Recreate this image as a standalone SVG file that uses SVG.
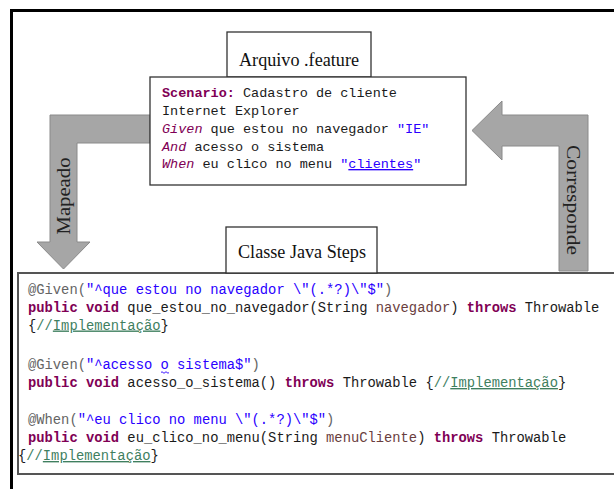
<svg xmlns="http://www.w3.org/2000/svg" width="614" height="489" viewBox="0 0 614 489">
<style>
.box{fill:#fff;stroke:#333;stroke-width:1.3}
.arrow{fill:#a6a6a6;stroke:#8a8a8a;stroke-width:1}
.title{font-family:"Liberation Serif","Times New Roman",serif;font-size:18px;fill:#111}
.side{font-family:"Liberation Serif","Times New Roman",serif;font-size:19px;fill:#222}
.mono{font-family:"Liberation Mono","DejaVu Sans Mono",monospace;fill:#1a1a1a}
.sc{font-size:13.5px}
.code{font-size:13.8px}
.kw{fill:#7f0055;font-weight:bold}
.it{fill:#7f0055;font-style:italic}
.str{fill:#2a00ff}
.ann{fill:#646464}
.par{fill:#6a3e3e}
.cm{fill:#3f7f5f}
.ul{text-decoration:underline}
</style>
<rect width="614" height="489" fill="#fff"/>
<path d="M11.5,489 V10.5 H614" fill="none" stroke="#000" stroke-width="3"/>
<g id="connectors">
<g id="arrow-mapeado">
<polygon class="arrow" points="150,115 50,115 50,242 37,242 63.5,269 90,242 77,242 77,143 150,143"/>
<text class="side" transform="translate(63.5,196) rotate(-90)" y="6.5" text-anchor="middle" textLength="77" lengthAdjust="spacingAndGlyphs">Mapeado</text>
</g>
<g id="arrow-corresponde">
<polygon class="arrow" points="588,271 588,115 502,115 502,101 472,130.5 502,160 502,146 559,146 559,271"/>
<text class="side" transform="translate(573.5,200) rotate(90)" y="6.5" text-anchor="middle" textLength="110" lengthAdjust="spacingAndGlyphs">Corresponde</text>
</g>
</g>
<g id="node-arquivo">
<rect class="box" x="227" y="32" width="144" height="45"/>
<text class="title" x="299" y="66" text-anchor="middle" textLength="120" lengthAdjust="spacingAndGlyphs">Arquivo .feature</text>
</g>
<g id="node-scenario">
<rect class="box" x="150" y="77" width="316" height="108"/>
<text class="mono sc" x="162" y="97"><tspan class="kw">Scenario:</tspan> Cadastro de cliente</text>
<text class="mono sc" x="162" y="115">Internet Explorer</text>
<text class="mono sc" x="162" y="133"><tspan class="it">Given</tspan> que estou no navegador <tspan class="str">"IE"</tspan></text>
<text class="mono sc" x="162" y="151"><tspan class="it">And</tspan> acesso o sistema</text>
<text class="mono sc" x="162" y="168"><tspan class="it">When</tspan> eu clico no menu <tspan class="str">"<tspan class="ul">clientes</tspan>"</tspan></text>
</g>
<g id="node-code">
<rect x="18" y="273" width="620" height="201" fill="#fff" stroke="#555" stroke-width="2"/>
<text class="mono code" x="28" y="293.5"><tspan class="ann">@Given(</tspan><tspan class="str">"^que estou no navegador \"(.*?)\"$"</tspan><tspan class="ann">)</tspan></text>
<text class="mono code" x="28" y="311.5"><tspan class="kw">public void</tspan> que_estou_no_navegador(String <tspan class="par">navegador</tspan>) <tspan class="kw">throws</tspan> Throwable</text>
<text class="mono code" x="28" y="329.5">{<tspan class="cm">//<tspan class="ul">Implementação</tspan></tspan>}</text>
<text class="mono code" x="28" y="369"><tspan class="ann">@Given(</tspan><tspan class="str">"^acesso o sistema$"</tspan><tspan class="ann">)</tspan></text>
<path d="M161,372.5 q1,-1.5 2,0 t2,0 t2,0 t2,0" fill="none" stroke="#2a00ff" stroke-width="0.9"/>
<text class="mono code" x="28" y="387"><tspan class="kw">public void</tspan> acesso_o_sistema() <tspan class="kw">throws</tspan> Throwable {<tspan class="cm">//<tspan class="ul">Implementação</tspan></tspan>}</text>
<text class="mono code" x="28" y="424"><tspan class="ann">@When(</tspan><tspan class="str">"^eu clico no menu \"(.*?)\"$"</tspan><tspan class="ann">)</tspan></text>
<text class="mono code" x="28" y="442"><tspan class="kw">public void</tspan> eu_clico_no_menu(String <tspan class="par">menuCliente</tspan>) <tspan class="kw">throws</tspan> Throwable</text>
<text class="mono code" x="18" y="460">{<tspan class="cm">//<tspan class="ul">Implementação</tspan></tspan>}</text>
</g>
<g id="node-classe">
<rect class="box" x="226" y="227" width="151" height="46"/>
<text class="title" x="302" y="258" text-anchor="middle" textLength="128" lengthAdjust="spacingAndGlyphs">Classe Java Steps</text>
</g>
</svg>
